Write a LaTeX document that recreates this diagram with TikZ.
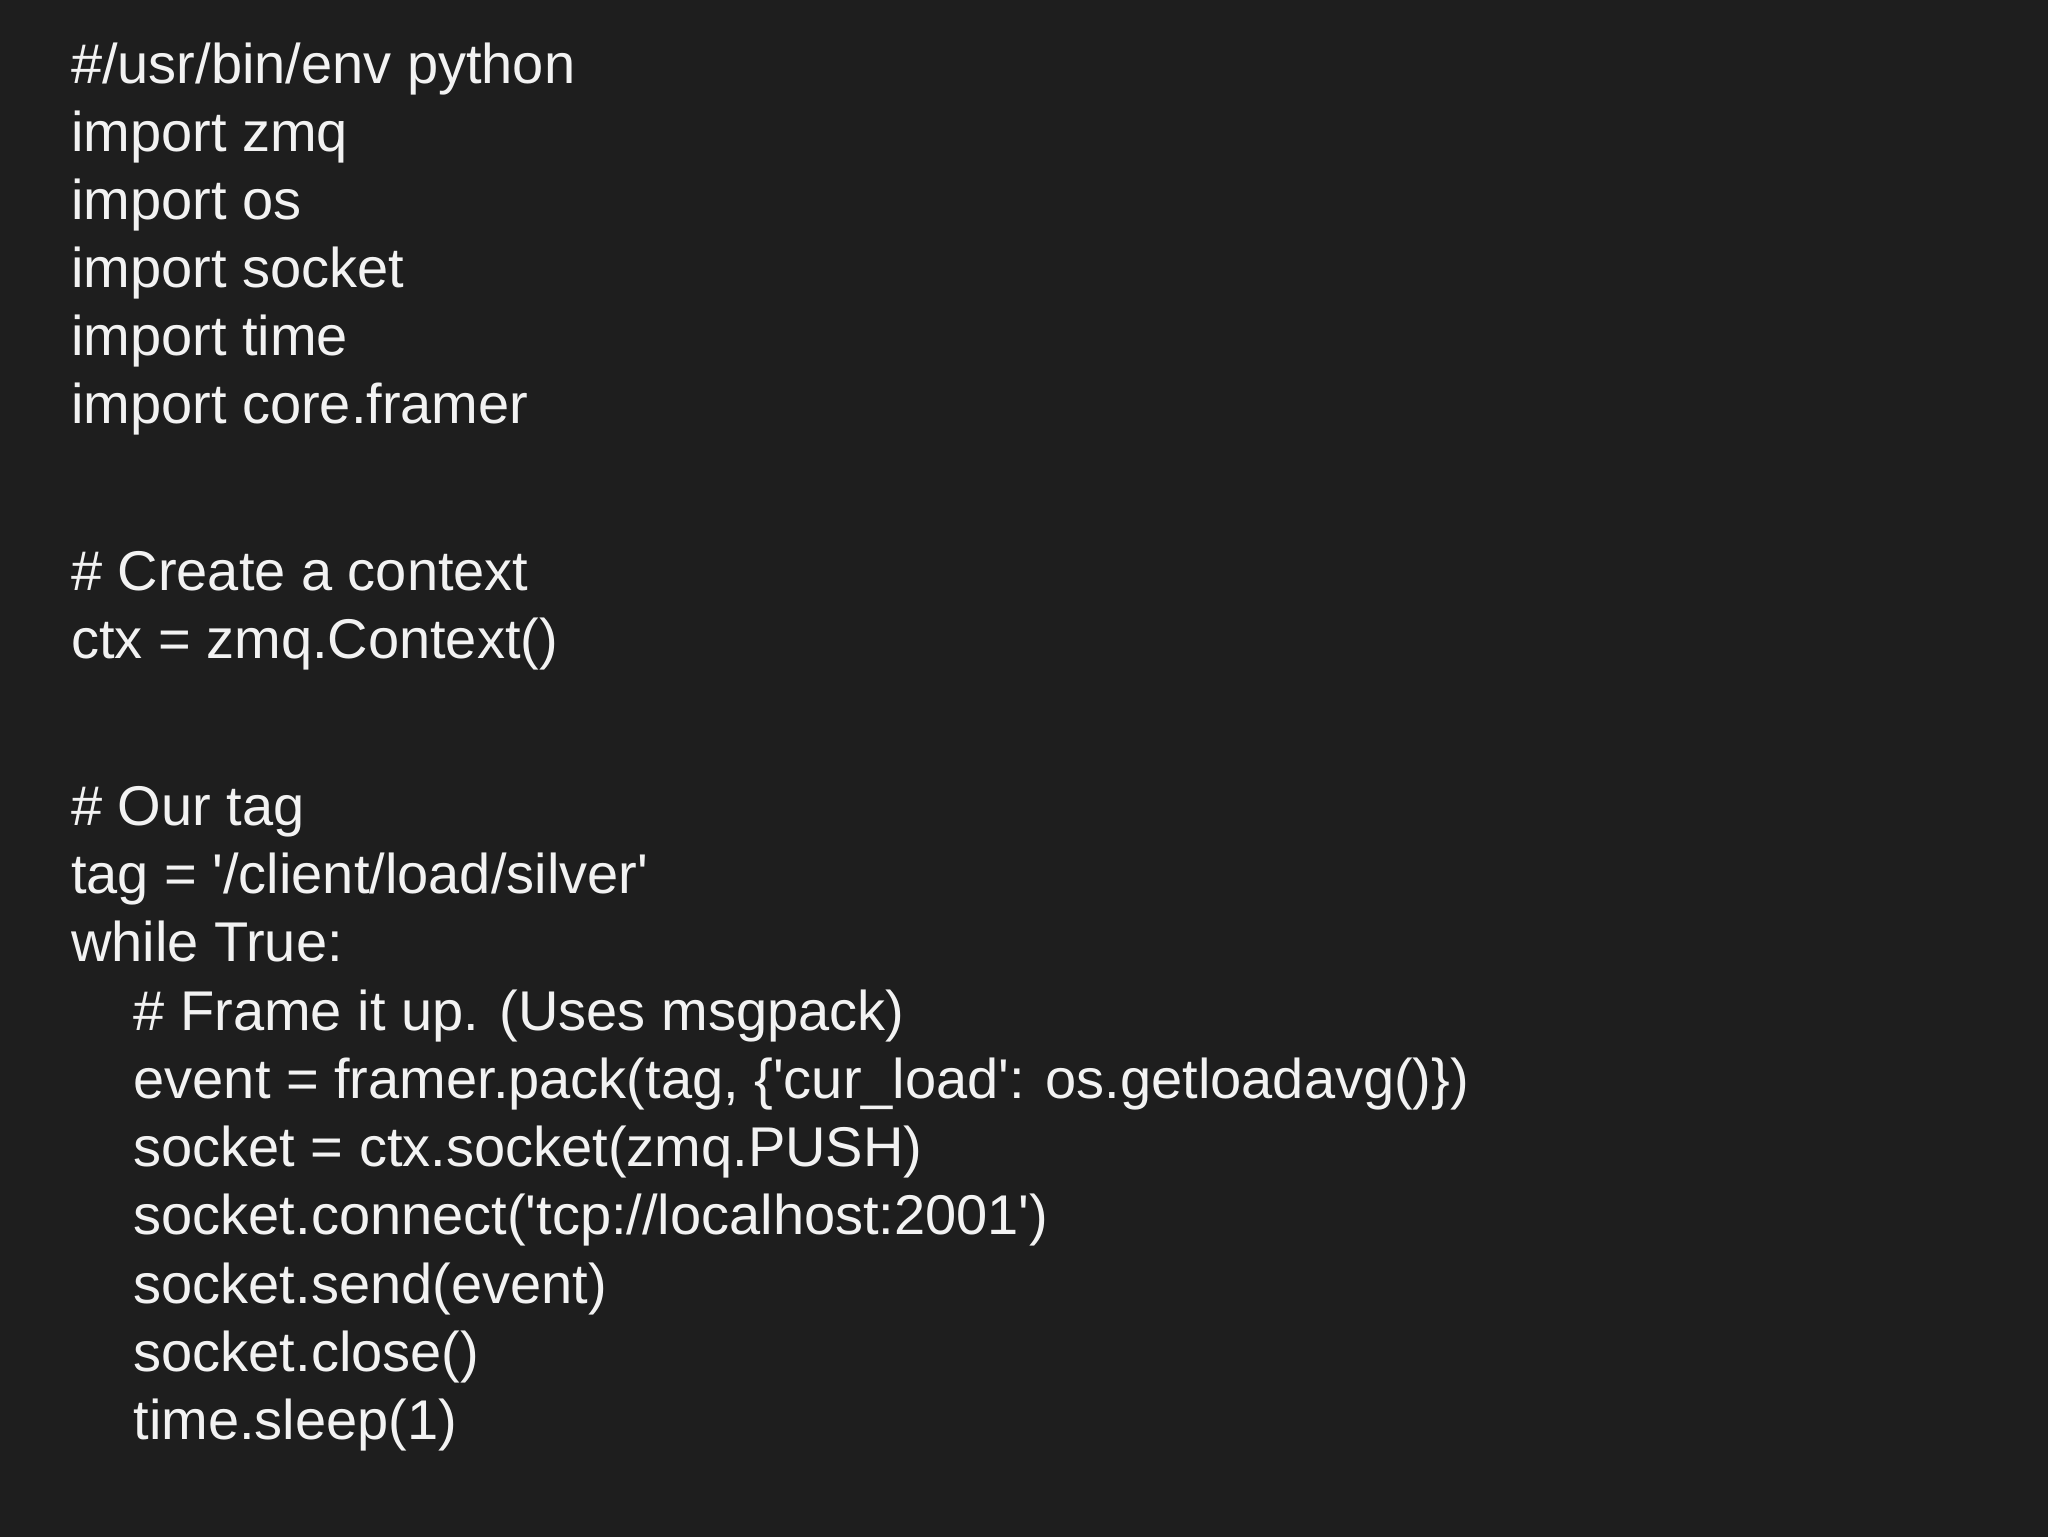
\documentclass[tikz,border=0pt]{standalone}
\usepackage{fontspec}
\newfontfamily\codefont{Liberation Sans}
\definecolor{bg}{HTML}{1E1E1E}
\definecolor{fg}{HTML}{F2F2F2}
\begin{document}
\begin{tikzpicture}[x=1pt,y=1pt,
  ln/.style={anchor=base west,inner sep=0pt,text=fg,font=\codefont\fontsize{28}{30}\selectfont}]
\fill[bg] (0,0) rectangle (1024,-768.5);
\useasboundingbox (0,0) rectangle (1024,-768.5);
\def\L{35.3}\def\I{66.6}
\node[ln] (l1) at (\L,{-(51+13)*0.653}) {\#/usr/bin/env python};
\node[ln] (l2) at (\L,{-(103+13)*0.653}) {import zmq};
\node[ln] (l3) at (\L,{-(155+13)*0.653}) {import os};
\node[ln] (l4) at (\L,{-(207+13)*0.653}) {import socket};
\node[ln] (l5) at (\L,{-(259+13)*0.653}) {import time};
\node[ln] (l6) at (\L,{-(311+13)*0.653}) {import core.framer};
\node[ln] (l7) at (\L,{-(439+13)*0.653}) {\# Create a context};
\node[ln] (l8) at (\L,{-(491+13)*0.653}) {ctx = zmq.Context()};
\node[ln] (l9) at (\L,{-(619+13)*0.653}) {\# Our tag};
\node[ln] (l10) at (\L,{-(671+13)*0.653}) {tag = '/client/load/silver'};
\node[ln] (l11) at (\L,{-(723+13)*0.653}) {while True:};
\node[ln] (l12) at (\I,{-(776+13)*0.653}) {\# Frame it up. (Uses msgpack)};
\node[ln] (l13) at (\I,{-(828+13)*0.653}) {event = framer.pack(tag, \{'cur\_load': os.getloadavg()\})};
\node[ln] (l14) at (\I,{-(880+13)*0.653}) {socket = ctx.socket(zmq.PUSH)};
\node[ln] (l15) at (\I,{-(932+13)*0.653}) {socket.connect('tcp://localhost:2001')};
\node[ln] (l16) at (\I,{-(985+13)*0.653}) {socket.send(event)};
\node[ln] (l17) at (\I,{-(1037+13)*0.653}) {socket.close()};
\node[ln] (l18) at (\I,{-(1089+13)*0.653}) {time.sleep(1)};
\end{tikzpicture}
\end{document}
